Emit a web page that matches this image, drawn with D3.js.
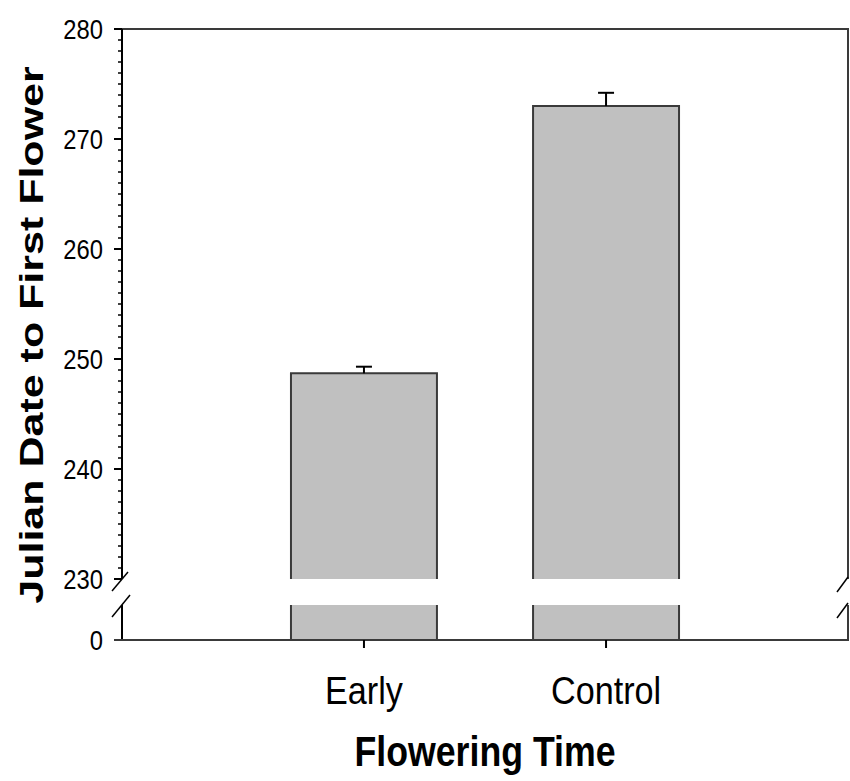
<!DOCTYPE html>
<html>
<head>
<meta charset="utf-8">
<script src="https://cdn.jsdelivr.net/npm/d3@7"></script>
<style>
  body { margin: 0; background: #fff; }
  text { font-family: "Liberation Sans", Arial, sans-serif; fill: #000; }
</style>
</head>
<body>
<div id="chart"></div>
<script>
// dados
const categories = ["Early", "Control"];
const means = [248.7, 273.0];
const errors = [0.6, 1.2];

const majorTicks = [230, 240, 250, 260, 270, 280];
const minorTicks = d3.range(230, 281, 1);

const width = 850;
const height = 781;

// limites da área do gráfico
const plotLeft = 122;
const plotRight = 848;
const plotTop = 29;
const plotBottom = 640;
const breakTop = 579;   // onde termina o segmento de cima
const breakBottom = 605; // onde começa o segmento de baixo

// compressão horizontal do texto (a imagem original é "espremida")
const sx = 0.85;

const svg = d3
  .select("#chart")
  .append("svg")
  .attr("width", width)
  .attr("height", height);

// escalas: segmento de cima (230-280) e segmento de baixo (0)
const y = d3.scaleLinear().domain([230, 280]).range([breakTop, plotTop]);
const yLow = d3.scaleLinear().domain([0, 230]).range([plotBottom, breakBottom]);

const x = d3
  .scaleBand()
  .domain(categories)
  .range([plotLeft, plotRight])
  .paddingInner(0.397)
  .paddingOuter(0.698);

const stroke = "#3a3a3a";

// barras - parte de cima (caminho aberto, sem borda embaixo)
svg
  .selectAll(".bar-up")
  .data(categories)
  .enter()
  .append("path")
  .attr("class", "bar-up")
  .attr("fill", "#c0c0c0")
  .attr("stroke", stroke)
  .attr("stroke-width", 2)
  .attr("d", (d, i) => {
    const x0 = x(d), x1 = x(d) + x.bandwidth();
    return `M${x0},${breakTop}V${y(means[i])}H${x1}V${breakTop}`;
  });

// barras - parte de baixo (preenchimento + laterais)
svg
  .selectAll(".bar-low-fill")
  .data(categories)
  .enter()
  .append("rect")
  .attr("class", "bar-low-fill")
  .attr("x", (d) => x(d))
  .attr("y", yLow(230))
  .attr("width", x.bandwidth())
  .attr("height", yLow(0) - yLow(230))
  .attr("fill", "#c0c0c0");

svg
  .selectAll(".bar-low")
  .data(categories)
  .enter()
  .append("path")
  .attr("class", "bar-low")
  .attr("fill", "none")
  .attr("stroke", stroke)
  .attr("stroke-width", 2)
  .attr("d", (d) => {
    const x0 = x(d), x1 = x(d) + x.bandwidth();
    return `M${x0},${yLow(230)}V${yLow(0)}M${x1},${yLow(230)}V${yLow(0)}`;
  });

// barras de erro (só para cima)
const err = svg
  .selectAll(".err")
  .data(categories)
  .enter()
  .append("g")
  .attr("class", "err")
  .attr("stroke", "#000")
  .attr("stroke-width", 2);

err
  .append("line")
  .attr("x1", (d) => x(d) + x.bandwidth() / 2)
  .attr("x2", (d) => x(d) + x.bandwidth() / 2)
  .attr("y1", (d, i) => y(means[i]))
  .attr("y2", (d, i) => y(means[i] + errors[i]));

err
  .append("line")
  .attr("x1", (d) => x(d) + x.bandwidth() / 2 - 8)
  .attr("x2", (d) => x(d) + x.bandwidth() / 2 + 8)
  .attr("y1", (d, i) => y(means[i] + errors[i]))
  .attr("y2", (d, i) => y(means[i] + errors[i]));

// moldura: topo e lado direito
svg
  .append("path")
  .attr("fill", "none")
  .attr("stroke", stroke)
  .attr("stroke-width", 2)
  .attr("d", `M${plotLeft},${plotTop}H${plotRight}V${breakTop}M${plotRight},${breakBottom}V${plotBottom}`);

// eixo y de cima, com ticks maiores e menores
const yAxis = svg.append("g").attr("transform", `translate(${plotLeft},0)`);

yAxis
  .append("line")
  .attr("x1", 0).attr("x2", 0)
  .attr("y1", plotTop).attr("y2", breakTop)
  .attr("stroke", "#000").attr("stroke-width", 2);

yAxis
  .selectAll(".minor")
  .data(minorTicks)
  .enter()
  .append("line")
  .attr("x1", -4).attr("x2", 0)
  .attr("y1", (d) => y(d)).attr("y2", (d) => y(d))
  .attr("stroke", "#000").attr("stroke-width", 1.5);

yAxis
  .selectAll(".major")
  .data(majorTicks)
  .enter()
  .append("line")
  .attr("x1", -8).attr("x2", 0)
  .attr("y1", (d) => y(d)).attr("y2", (d) => y(d))
  .attr("stroke", "#000").attr("stroke-width", 2);

yAxis
  .selectAll(".lbl")
  .data(majorTicks)
  .enter()
  .append("text")
  .attr("text-anchor", "end")
  .attr("font-size", 28)
  .attr("transform", (d) => `translate(-19,${y(d) + 10}) scale(${sx},1)`)
  .text((d) => d);

// eixo y de baixo (só o zero)
yAxis
  .append("line")
  .attr("x1", 0).attr("x2", 0)
  .attr("y1", breakBottom).attr("y2", plotBottom)
  .attr("stroke", "#000").attr("stroke-width", 2);

yAxis
  .append("text")
  .attr("text-anchor", "end")
  .attr("font-size", 28)
  .attr("transform", `translate(-19,${yLow(0) + 10}) scale(${sx},1)`)
  .text("0");

// eixo x
svg
  .append("line")
  .attr("x1", plotLeft - 8).attr("x2", plotRight + 1)
  .attr("y1", plotBottom).attr("y2", plotBottom)
  .attr("stroke", stroke).attr("stroke-width", 2);

svg
  .selectAll(".xtick")
  .data(categories)
  .enter()
  .append("line")
  .attr("x1", (d) => x(d) + x.bandwidth() / 2)
  .attr("x2", (d) => x(d) + x.bandwidth() / 2)
  .attr("y1", plotBottom).attr("y2", plotBottom + 8)
  .attr("stroke", "#000").attr("stroke-width", 2);

svg
  .selectAll(".xlbl")
  .data(categories)
  .enter()
  .append("text")
  .attr("text-anchor", "middle")
  .attr("font-size", 38)
  .attr("transform", (d) => `translate(${x(d) + x.bandwidth() / 2},704) scale(0.9,1)`)
  .text((d) => d);

// marcas de quebra do eixo (as barrinhas inclinadas)
const slashes = [
  [plotLeft - 10, breakTop + 12, plotLeft + 6, breakTop - 7],
  [plotLeft - 10, breakBottom + 12, plotLeft + 8, breakBottom - 10],
  [plotRight - 11, breakTop + 13, plotRight, breakTop - 2],
  [plotRight - 11, breakBottom + 13, plotRight, breakBottom - 2],
];

svg
  .selectAll(".slash")
  .data(slashes)
  .enter()
  .append("line")
  .attr("x1", (d) => d[0]).attr("y1", (d) => d[1])
  .attr("x2", (d) => d[2]).attr("y2", (d) => d[3])
  .attr("stroke", "#000").attr("stroke-width", 1.5);

// títulos dos eixos
svg
  .append("text")
  .attr("text-anchor", "middle")
  .attr("font-size", 42)
  .attr("font-weight", "bold")
  .attr("transform", `translate(485,766) scale(${sx},1)`)
  .text("Flowering Time");

svg
  .append("text")
  .attr("text-anchor", "middle")
  .attr("font-size", 43)
  .attr("font-weight", "bold")
  .attr("transform", `translate(43,335) rotate(-90) scale(1,0.78)`)
  .text("Julian Date to First Flower");
</script>
</body>
</html>
